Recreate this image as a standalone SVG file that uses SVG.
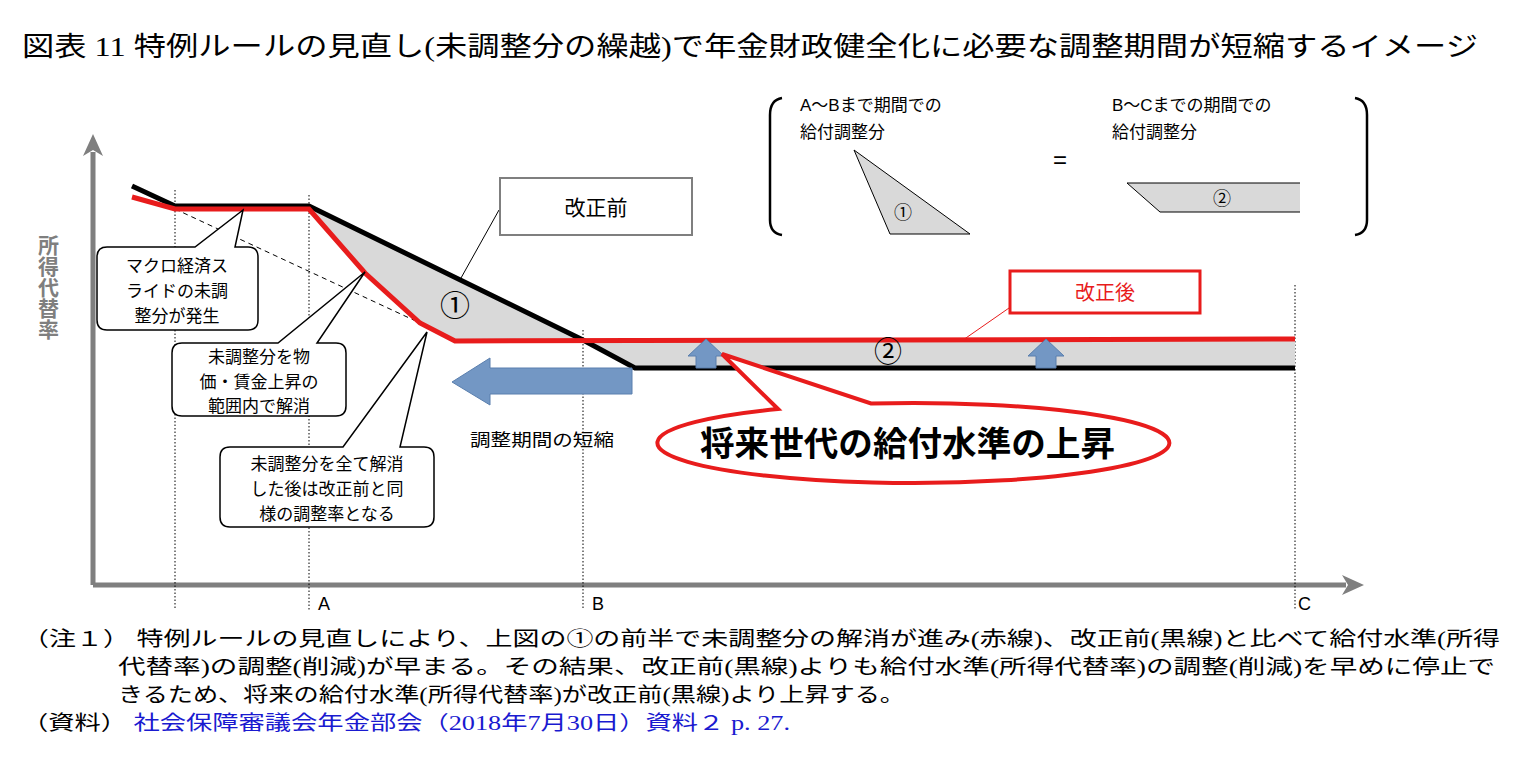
<svg xmlns="http://www.w3.org/2000/svg" width="1525" height="777" viewBox="0 0 1525 777">
<style>
text{font-family:"Liberation Sans","Noto Sans CJK JP",sans-serif;fill:#000}
.s{font-family:"Liberation Serif","Noto Sans CJK JP",serif}
.box{fill:#fff;stroke:#000;stroke-width:1.5}
.dot{stroke:#000;stroke-width:1;stroke-dasharray:1.5 2}
.blue{fill:#7397c4;stroke:#5a7fae;stroke-width:1}
.c{font-size:17px;text-anchor:middle}
</style>
<defs>
<marker id="ah" markerWidth="24" markerHeight="24" refX="4" refY="12" orient="auto" markerUnits="userSpaceOnUse" viewBox="0 0 24 24"><path d="M0,2 L22,12 L0,22 L6,12 z" fill="#7f7f7f"/></marker>
</defs>
<rect width="1525" height="777" fill="#fff"/>
<text x="22" y="56" font-size="27" class="s" textLength="1456" lengthAdjust="spacingAndGlyphs">図表 11  特例ルールの見直し(未調整分の繰越)で年金財政健全化に必要な調整期間が短縮するイメージ</text>
<g id="axes">
<line x1="93" y1="585" x2="93" y2="152" stroke="#7f7f7f" stroke-width="5" marker-end="url(#ah)"/>
<line x1="93" y1="585" x2="1346" y2="585" stroke="#7f7f7f" stroke-width="5" marker-end="url(#ah)"/>
<line class="dot" x1="175" y1="190" x2="175" y2="610"/>
<line class="dot" x1="309" y1="195" x2="309" y2="610"/>
<line class="dot" x1="583" y1="330" x2="583" y2="610"/>
<line class="dot" x1="1295" y1="285" x2="1295" y2="610"/>
<text x="318" y="610" font-size="18">A</text>
<text x="592" y="610" font-size="18">B</text>
<text x="1298" y="610" font-size="18">C</text>
<text font-size="21" font-weight="bold" style="fill:#7f7f7f;writing-mode:tb" x="47" y="235">所得代替率</text>
</g>
<g id="areas">
<path d="M309,207 L583,340 L455,341 L420,323 L365,273 Z" fill="#d9d9d9"/>
<path d="M583,340 L1295,340 L1295,368 L635,368 Z" fill="#d9d9d9"/>
<line x1="175" y1="209" x2="420" y2="323" stroke="#000" stroke-dasharray="5 4"/>
<polyline points="132,186 175,206 309,206 583,340 635,368 1295,368" fill="none" stroke="#000" stroke-width="5"/>
<polyline points="132,197 175,209 309,209 365,273 420,323 455,341 1295,339" fill="none" stroke="#e81c1c" stroke-width="5"/>
<text x="455" y="316" font-size="30" text-anchor="middle">①</text>
<text x="888" y="362" font-size="28" text-anchor="middle">②</text>
</g>
<g id="arrows">
<path class="blue" d="M632,368 L490,368 L490,358 L452,382 L490,405 L490,394 L632,394 Z"/>
<path class="blue" d="M696,368 L696,356 L688,356 L706,339 L724,356 L716,356 L716,368 Z"/>
<path class="blue" d="M1036,368 L1036,356 L1028,356 L1046,339 L1064,356 L1056,356 L1056,368 Z"/>
<text x="470" y="446" font-size="17" textLength="144" lengthAdjust="spacingAndGlyphs">調整期間の短縮</text>
</g>
<g id="connectors">
<line x1="499" y1="210" x2="461" y2="278" stroke="#000"/>
<line x1="1009" y1="308" x2="963" y2="340" stroke="#e81c1c"/>
</g>
<g id="box1">
<path class="box" d="M107,247 L195,247 L243,210 L235,247 L248,247 Q258,247 258,257 L258,320 Q258,330 248,330 L107,330 Q97,330 97,320 L97,257 Q97,247 107,247 Z"/>
<text class="c" x="177" y="272">マクロ経済ス</text><text class="c" x="177" y="297">ライドの未調</text><text class="c" x="177" y="322">整分が発生</text>
</g>
<g id="box2">
<path class="box" d="M182,343 L278,343 L365,272 L317,343 L336,343 Q346,343 346,353 L346,406 Q346,416 336,416 L182,416 Q172,416 172,406 L172,353 Q172,343 182,343 Z"/>
<text class="c" x="259" y="363">未調整分を物</text><text class="c" x="259" y="388">価・賃金上昇の</text><text class="c" x="259" y="412">範囲内で解消</text>
</g>
<g id="box3">
<path class="box" d="M230,447 L343,447 L427,332 L400,447 L424,447 Q434,447 434,457 L434,517 Q434,527 424,527 L230,527 Q220,527 220,517 L220,457 Q220,447 230,447 Z"/>
<text class="c" x="327" y="470">未調整分を全て解消</text><text class="c" x="327" y="495">した後は改正前と同</text><text class="c" x="327" y="520">様の調整率となる</text>
</g>
<g id="kaiseimae">
<rect x="500" y="178" width="192" height="57" fill="#fff" stroke="#7f7f7f" stroke-width="2"/>
<text x="596" y="215" font-size="21" text-anchor="middle">改正前</text>
</g>
<g id="kaiseigo">
<rect x="1010" y="271" width="190" height="42" fill="#fff" stroke="#e81c1c" stroke-width="3"/>
<text x="1105" y="300" font-size="20" text-anchor="middle" style="fill:#e81c1c">改正後</text>
</g>
<g id="callout">
<path d="M778,409 L722,354 L871,403.5 A256,40 0 1 1 778,409 Z" fill="#fff" stroke="#e81c1c" stroke-width="4"/>
<text x="700" y="456" font-size="34" font-weight="bold" textLength="415" lengthAdjust="spacingAndGlyphs">将来世代の給付水準の上昇</text>
</g>
<g id="legend">
<path d="M782,98 Q770,100 770,115 L770,220 Q770,233 782,235" fill="none" stroke="#000" stroke-width="2.5"/>
<path d="M1355,98 Q1367,100 1367,115 L1367,220 Q1367,233 1355,235" fill="none" stroke="#000" stroke-width="2.5"/>
<text x="800" y="111" font-size="17">A～Bまで期間での</text><text x="800" y="138" font-size="17">給付調整分</text>
<text x="1112" y="111" font-size="17">B～Cまでの期間での</text><text x="1112" y="138" font-size="17">給付調整分</text>
<text x="1060" y="168" font-size="24" text-anchor="middle">=</text>
<path d="M854,150 L970,234 L890,234 Z" fill="#d9d9d9" stroke="#000"/>
<text x="903" y="219" font-size="18" text-anchor="middle">①</text>
<path d="M1127,183 L1300,183 L1300,212 L1160,212 Z" fill="#d9d9d9"/>
<path d="M1300,183 L1127,183 L1160,212 L1300,212" fill="none" stroke="#000"/>
<text x="1222" y="205" font-size="18" text-anchor="middle">②</text>
</g>
<g id="notes">
<text class="s" x="22" y="646" font-size="20" textLength="1478" lengthAdjust="spacingAndGlyphs">（注１） 特例ルールの見直しにより、上図の①の前半で未調整分の解消が進み(赤線)、改正前(黒線)と比べて給付水準(所得</text>
<text class="s" x="118" y="674" font-size="20" textLength="1377" lengthAdjust="spacingAndGlyphs">代替率)の調整(削減)が早まる。その結果、改正前(黒線)よりも給付水準(所得代替率)の調整(削減)を早めに停止で</text>
<text class="s" x="118" y="702" font-size="20" textLength="787" lengthAdjust="spacingAndGlyphs">きるため、将来の給付水準(所得代替率)が改正前(黒線)より上昇する。</text>
<text class="s" x="22" y="730" font-size="20" textLength="768" lengthAdjust="spacingAndGlyphs">（資料） <tspan style="fill:#1a1ad0">社会保障審議会年金部会（2018年7月30日）資料２  p. 27.</tspan></text>
</g>
</svg>
